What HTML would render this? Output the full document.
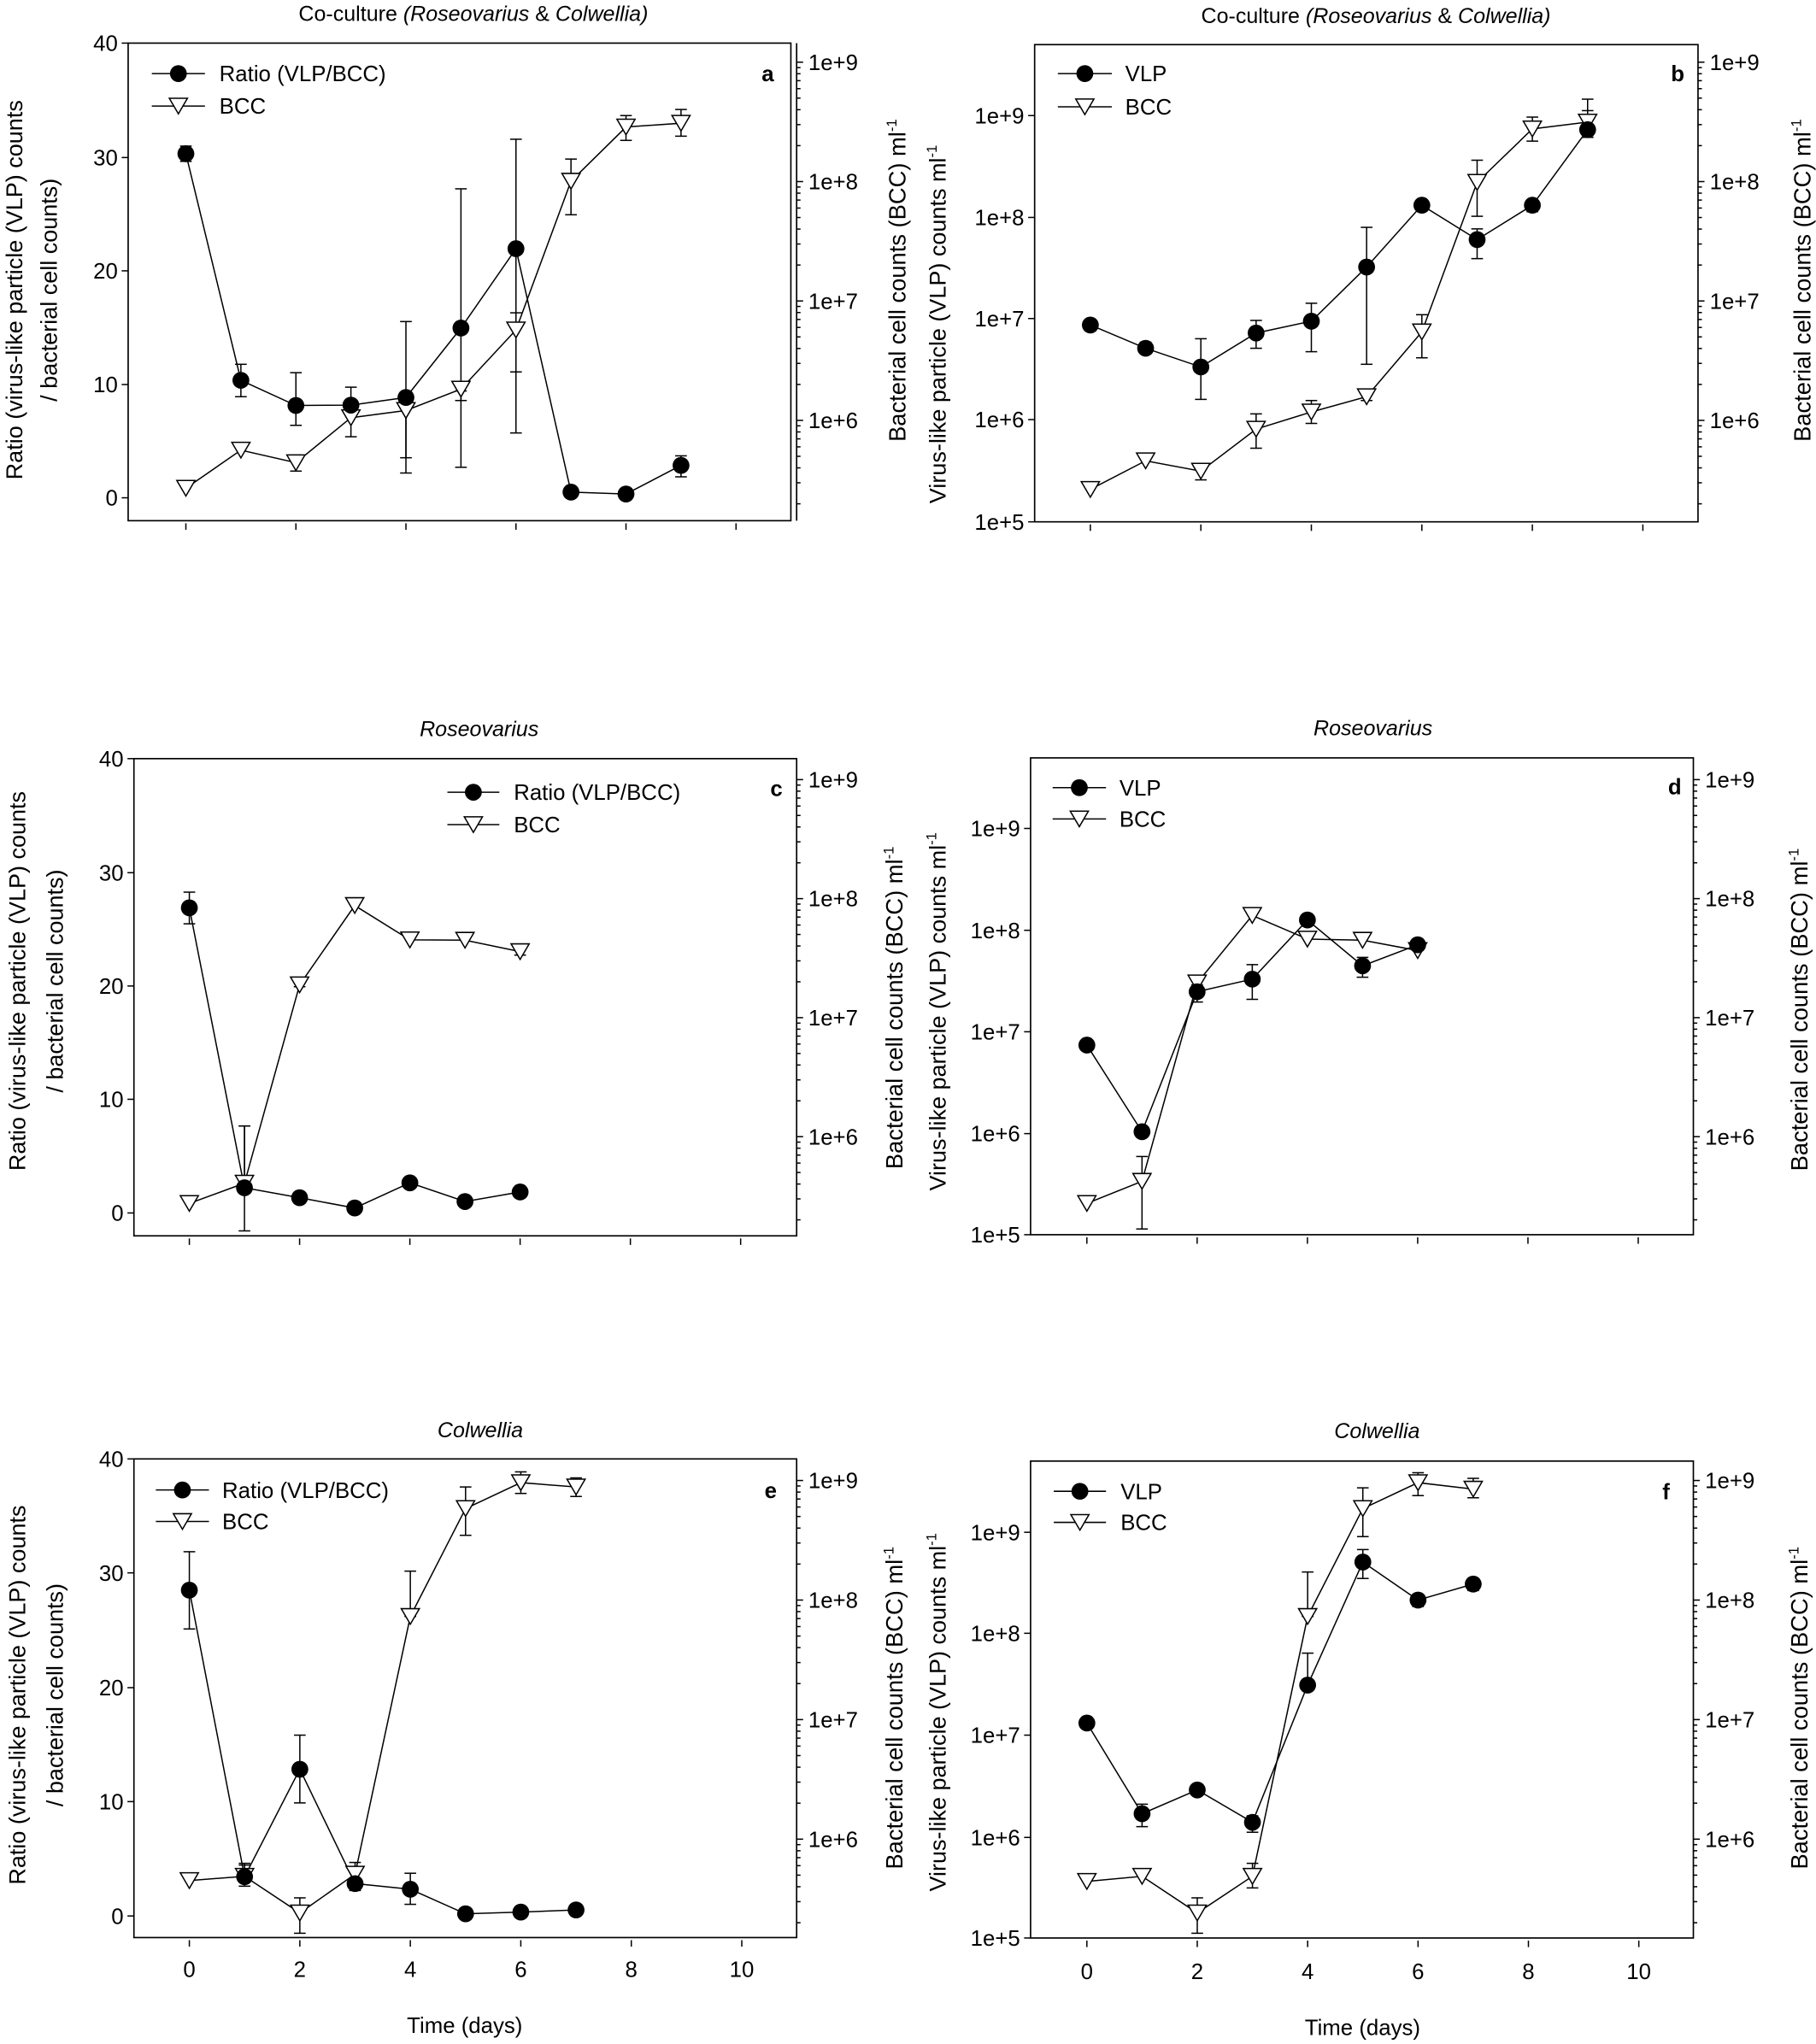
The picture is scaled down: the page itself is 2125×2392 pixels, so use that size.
<!DOCTYPE html>
<html><head><meta charset="utf-8"><style>
html,body{margin:0;padding:0;background:#fff;}
svg{display:block;}
text{font-family:"Liberation Sans",Arial,sans-serif;fill:#000;}
</style></head><body>
<svg id="s" xmlns="http://www.w3.org/2000/svg" width="2125" height="2392" viewBox="0 0 1400 1576" preserveAspectRatio="none"></svg>
<script>
var P=[
{ox:0,oy:0,sx:2.247,sy:3.40,fr:[222,1370,113,1365],ra:1380,
 lt:'lin',lticks:[['40',113],['30',413],['20',710],['10',1008],['0',1305]],
 r9:163,rd:313,x0:322,x10:1275,xlab:null,
 title:['Co-culture ',['(Roseovarius',1],' & ',['Colwellia)',1]],tpos:[820,35],
 lg:{l1:263,l2:355,y1:193,y2:278,tx:380,n1:'Ratio (VLP/BCC)'},let:['a',1330,193],
 ltitle:{two:true,x1:25,x2:85,cy:760},rt:{x:1555,cy:735},
 s1:[[0,403,383,423],[1,997,955,1040],[2,1063,977,1115],[3,1062,1015,1080],[4,1042,843,1240],[5,860,495,1225],[6,652,365,1135],[7,1290],[8,1295],[9,1220,1195,1250]],
 s2:[[0,1280],[1,1180],[2,1213,1193,1235],[3,1095,1060,1145],[4,1076,1040,1200],[5,1020,1025,1050],[6,865,820,975],[7,475,417,563],[8,333,303,368],[9,323,287,357]]},
{ox:698.3,oy:0,sx:2.235,sy:3.40,fr:[222,1365,117,1368],ra:1365,
 lt:'log',lticks:[['1e+9',303],['1e+8',570],['1e+7',835],['1e+6',1100],['1e+5',1368]],
 r9:163,rd:313,x0:318,x10:1270,xlab:null,
 title:['Co-culture ',['(Roseovarius',1],' & ',['Colwellia)',1]],tpos:[810,40],
 lg:{l1:262,l2:355,y1:193,y2:280,tx:378,n1:'VLP'},let:['b',1330,193],
 ltitle:{two:false,x1:55,cy:850},rt:{x:1545,cy:735},
 s1:[[0,852],[1,913,897,925],[2,962,888,1047],[3,873,840,913],[4,842,795,922],[5,700,596,955],[6,538],[7,628,600,678],[8,538,525,555],[9,340,290,360]],
 s2:[[0,1283],[1,1208],[2,1235,1220,1258],[3,1125,1085,1175],[4,1080,1050,1110],[5,1040,1030,1050],[6,870,825,938],[7,478,420,567],[8,338,307,370],[9,320,260,360]]},
{ox:0,oy:527,sx:2.247,sy:3.40,fr:[232,1380,197,1448],ra:1380,
 lt:'lin',lticks:[['40',197],['30',496],['20',793],['10',1090],['0',1388]],
 r9:252,rd:312,x0:328,x10:1283,xlab:null,
 title:[['Roseovarius',1]],tpos:[830,118],
 lg:{l1:775,l2:865,y1:285,y2:370,tx:890,n1:'Ratio (VLP/BCC)'},let:['c',1345,275],
 ltitle:{two:true,x1:30,x2:95,cy:780},rt:{x:1550,cy:850},
 s1:[[0,588,547,630],[1,1322,1160,1330],[2,1348],[3,1375],[4,1309],[5,1358],[6,1333]],
 s2:[[0,1363],[1,1310,1160,1435],[2,790,785,795],[3,582],[4,672],[5,673],[6,703,695,712]]},
{ox:698.3,oy:527,sx:2.235,sy:3.40,fr:[215,1357,195,1445],ra:1357,
 lt:'log',lticks:[['1e+9',380],['1e+8',647],['1e+7',913],['1e+6',1180],['1e+5',1445]],
 r9:252,rd:312,x0:312,x10:1262,xlab:null,
 title:[['Roseovarius',1]],tpos:[805,115],
 lg:{l1:253,l2:345,y1:273,y2:355,tx:368,n1:'VLP'},let:['d',1325,270],
 ltitle:{two:false,x1:55,cy:860},rt:{x:1540,cy:855},
 s1:[[0,948],[1,1175],[2,808,790,835],[3,775,737,828],[4,620],[5,740,718,770],[6,685]],
 s2:[[0,1363],[1,1305,1240,1430],[2,785],[3,608],[4,670],[5,673],[6,700]]},
{ox:0,oy:1054,sx:2.247,sy:3.005,fr:[232,1380,213,1322],ra:1380,
 lt:'lin',lticks:[['40',213],['30',477],['20',743],['10',1007],['0',1272]],
 r9:263,rd:277,x0:328,x10:1285,xlab:1395,xt:[805,1525],
 title:[['Colwellia',1]],tpos:[832,145],
 lg:{l1:270,l2:362,y1:285,y2:358,tx:385,n1:'Ratio (VLP/BCC)'},let:['e',1335,285],
 ltitle:{two:true,x1:30,x2:95,cy:760},rt:{x:1550,cy:790},
 s1:[[0,517,428,607],[1,1181,1154,1203],[2,932,853,1010],[3,1197,1170,1213],[4,1210,1173,1245],[5,1267],[6,1263],[7,1258]],
 s2:[[0,1190],[1,1180,1150,1180],[2,1265,1230,1312],[3,1175,1148,1210],[4,578,473,578],[5,328,278,390],[6,268,243,293],[7,278,257,300]]},
{ox:698.3,oy:1054,sx:2.235,sy:3.005,fr:[215,1357,218,1323],ra:1357,
 lt:'log',lticks:[['1e+9',383],['1e+8',617],['1e+7',853],['1e+6',1090],['1e+5',1323]],
 r9:263,rd:277,x0:312,x10:1263,xlab:1400,xt:[787,1530],
 title:[['Colwellia',1]],tpos:[812,147],
 lg:{l1:255,l2:345,y1:288,y2:360,tx:370,n1:'VLP'},let:['f',1310,288],
 ltitle:{two:false,x1:55,cy:800},rt:{x:1540,cy:790},
 s1:[[0,825],[1,1035,1013,1065],[2,980],[3,1055,1040,1078],[4,737,663,737],[5,452,423,490],[6,540,530,555],[7,503,490,518]],
 s2:[[0,1192],[1,1180],[2,1265,1230,1312],[3,1180,1150,1207],[4,578,475,578],[5,328,280,393],[6,268,245,298],[7,283,258,303]]}
];
var o=[];
function L(a,b,c,d,w){o.push('<line x1="'+a.toFixed(2)+'" y1="'+b.toFixed(2)+'" x2="'+c.toFixed(2)+'" y2="'+d.toFixed(2)+'" stroke="#000" stroke-width="'+(w||1)+'"/>');}
function T(x,y,s,size,anchor,extra){o.push('<text x="'+x.toFixed(2)+'" y="'+y.toFixed(2)+'" font-size="'+size+'" text-anchor="'+(anchor||'start')+'" '+(extra||'')+'>'+s+'</text>');}
function circ(x,y){o.push('<circle cx="'+x.toFixed(2)+'" cy="'+y.toFixed(2)+'" r="6.5" fill="#000"/>');}
function tri(x,y){o.push('<polygon points="'+(x-7).toFixed(2)+','+(y-6).toFixed(2)+' '+(x+7).toFixed(2)+','+(y-6).toFixed(2)+' '+x.toFixed(2)+','+(y+6).toFixed(2)+'" fill="#fff" stroke="#000" stroke-width="1"/>');}
P.forEach(function(p){
 function X(x){return p.ox+x/p.sx;} function Y(y){return p.oy+y/p.sy;}
 var l=X(p.fr[0]),r=X(p.fr[1]),t=Y(p.fr[2]),b=Y(p.fr[3]),ra=X(p.ra);
 o.push('<rect x="'+l.toFixed(2)+'" y="'+t.toFixed(2)+'" width="'+(r-l).toFixed(2)+'" height="'+(b-t).toFixed(2)+'" fill="none" stroke="#000" stroke-width="1.1"/>');
 if(ra-r>1)L(ra,t,ra,b,1.1);
 p.lticks.forEach(function(k){var y=Y(k[1]);L(l-5,y,l,y);T(l-8,y+6,k[0],17,'end');});
 var rd=p.rd/p.sy, r9=Y(p.r9);
 for(var e=9;e>=3;e--){for(var k=1;k<=9;k++){var y=r9+(9-e-Math.log10(k))*rd;if(y<t-0.5||y>b+0.5)continue;
   if(k==1){L(ra,y,ra+5,y);T(ra+9,y+6,'1e+'+e,17,'start');}else L(ra,y,ra+3,y);}}
 for(var i=0;i<=5;i++){var x=X(p.x0+i*(p.x10-p.x0)/5);L(x,b+2,x,b+7);
   if(p.xlab)T(x,Y(p.xlab)+6,String(i*2),17,'middle');}
 if(p.xt)T(X(p.xt[0]),Y(p.xt[1])+6,'Time (days)',17,'middle');
 var ts='';p.title.forEach(function(s){if(typeof s=='string')ts+=s;else ts+='<tspan font-style="italic">'+s[0]+'</tspan>';});
 T(X(p.tpos[0]),Y(p.tpos[1])+6,ts,16.5,'middle');
 var lt=p.ltitle;
 if(lt.two){var cx=X(lt.x1),cy=Y(lt.cy);T(cx+6,cy,'Ratio (virus-like particle (VLP) counts',17.8,'middle','transform="rotate(-90 '+(cx+6)+' '+cy+')"');
   var cx2=X(lt.x2);T(cx2+6,cy,'/ bacterial cell counts)',17.8,'middle','transform="rotate(-90 '+(cx2+6)+' '+cy+')"');}
 else{var cx=X(lt.x1),cy=Y(lt.cy);T(cx+6,cy,'Virus-like particle (VLP) counts ml<tspan font-size="11" dy="-7">-1</tspan>',17.8,'middle','transform="rotate(-90 '+(cx+6)+' '+cy+')"');}
 var rx=X(p.rt.x),ry=Y(p.rt.cy);
 T(rx+6,ry,'Bacterial cell counts (BCC) ml<tspan font-size="11" dy="-7">-1</tspan>',18,'middle','transform="rotate(-90 '+(rx+6)+' '+ry+')"');
 function dx(d){return X(p.x0+d*(p.x10-p.x0)/10);}
 [p.s2,p.s1].forEach(function(s){
   s.forEach(function(q){if(q.length>2){var x=dx(q[0]),y1=Y(q[2]),y2=Y(q[3]);L(x,y1,x,y2);L(x-4.5,y1,x+4.5,y1);L(x-4.5,y2,x+4.5,y2);}});
   var pts=s.map(function(q){return dx(q[0]).toFixed(2)+','+Y(q[1]).toFixed(2);}).join(' ');
   o.push('<polyline points="'+pts+'" fill="none" stroke="#000" stroke-width="1"/>');
 });
 p.s2.forEach(function(q){tri(dx(q[0]),Y(q[1]));});
 p.s1.forEach(function(q){circ(dx(q[0]),Y(q[1]));});
 var g=p.lg;L(X(g.l1),Y(g.y1),X(g.l2),Y(g.y1));circ((X(g.l1)+X(g.l2))/2,Y(g.y1));T(X(g.tx),Y(g.y1)+6,g.n1,17);
 L(X(g.l1),Y(g.y2),X(g.l2),Y(g.y2));tri((X(g.l1)+X(g.l2))/2,Y(g.y2));T(X(g.tx),Y(g.y2)+6,'BCC',17);
 T(X(p.let[1]),Y(p.let[2])+6,p.let[0],17,'middle','font-weight="bold"');
});
document.getElementById('s').innerHTML=o.join('');
</script>
</body></html>
